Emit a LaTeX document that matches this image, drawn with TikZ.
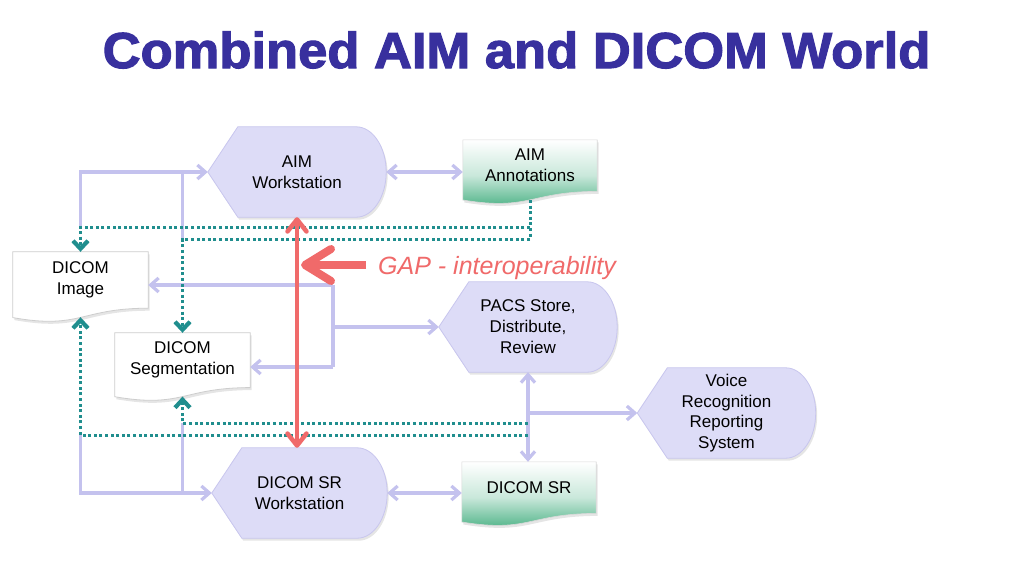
\documentclass[tikz,border=0pt]{standalone}
\usepackage{fontspec}
\setmainfont{Liberation Sans}
\newfontfamily\titlefont[FakeBold=2.2,FakeStretch=1.04]{Liberation Sans Bold}
\usetikzlibrary{arrows.meta,backgrounds,calc}
\definecolor{titleblue}{RGB}{56,48,158}
\definecolor{dispfill}{RGB}{221,220,247}
\definecolor{displine}{RGB}{200,198,238}
\definecolor{connc}{RGB}{196,194,238}
\definecolor{tealc}{RGB}{32,142,142}
\definecolor{redc}{RGB}{240,106,106}
\definecolor{docgreen}{RGB}{62,172,124}
\definecolor{docline}{RGB}{205,205,205}

\newcommand{\dispshape}[2]{\path[#2] (#1.west) -- ([xshift=30pt]#1.north west) -- ([xshift=-30pt]#1.north east) .. controls ([xshift=-13.4pt]#1.north east) and ([yshift=24.8pt]#1.east) .. (#1.east) .. controls ([yshift=-24.8pt]#1.east) and ([xshift=-13.4pt]#1.south east) .. ([xshift=-30pt]#1.south east) -- ([xshift=30pt]#1.south west) -- cycle;}
\newcommand{\docshape}[3]{\path[#3] (#1.north west) -- (#1.north east) -- (#1.south east) .. controls (#1.south) and ([yshift={-0.307*#2*1pt}]#1.south) .. ([yshift={-0.134*#2*1pt}]#1.south west) -- cycle;}

\tikzset{
  lbl/.style={font=\fontsize{17}{21}\selectfont, align=center, inner sep=0pt},
  disp/.style={lbl, minimum width=178pt, minimum height=90pt},
  doc/.style={lbl, minimum width=134pt},
  dispsty/.style={fill=dispfill, draw=displine, line width=0.8pt},
  shad/.style={fill=black, fill opacity=0.10, draw=none, transform canvas={shift={(1.5pt,-2.5pt)}}},
  docwhite/.style={fill=white, draw=docline, line width=0.8pt},
  docgrn/.style={top color=white, bottom color=docgreen, middle color=docgreen!28!white, draw=white!85!black, line width=0.6pt},
  conn/.style={draw=connc, line width=3.2pt},
  tealdot/.style={draw=tealc, line width=3pt, dash pattern=on 3pt off 2.6pt},
  redline/.style={draw=redc, line width=4.5pt},
  redbig/.style={draw=redc, line width=8pt},
  pb/.tip={Straight Barb[length=8pt,width=14pt]},
  tb/.tip={Straight Barb[length=8pt,width=15pt,line width=4.2pt]},
  rb/.tip={Straight Barb[length=12pt,width=19pt,round]},
  rbig/.tip={Straight Barb[length=26pt,width=32pt,round]},
}

\begin{document}
\begin{tikzpicture}[x=1pt,y=-1pt]
\useasboundingbox (0,0) rectangle (1024,576);

% title
\node[anchor=base, inner sep=0pt, text=titleblue, font=\fontsize{50.5}{60}\titlefont] (title) at (516.5,68) {Combined AIM and DICOM World};

% nodes
\node[disp] (aimws) at (297,172) {AIM\\Workstation};
\node[disp] (pacs) at (528,327) {PACS Store,\\Distribute,\\Review};
\node[disp, font=\fontsize{17}{20.5}\selectfont] (voice) at (726.5,413) {Voice\\Recognition\\Reporting\\System};
\node[disp, minimum width=175pt] (srws) at (299.5,493) {DICOM SR\\Workstation};
\node[doc, minimum height=51.2pt] (aimann) at (530,165.6) {AIM\\Annotations};
\node[doc, minimum height=51.2pt] (dsr) at (529,487.6) {DICOM SR};
\node[doc, minimum height=56pt, minimum width=135pt] (img) at (80.5,280) {DICOM\\Image};
\node[doc, minimum height=54.4pt, minimum width=135pt] (seg) at (182.5,360.2) {DICOM\\Segmentation};
\node[anchor=base west, inner sep=0pt, text=redc, font=\fontsize{25}{30}\selectfont\itshape] (gap) at (378,274) {GAP - interoperability};

% shapes
\begin{scope}[on background layer]
  \fill[white] (0,0) rectangle (1024,576);
  \dispshape{aimws}{shad}
  \dispshape{pacs}{shad}
  \dispshape{voice}{shad}
  \dispshape{srws}{shad}
  \docshape{aimann}{64}{shad}
  \docshape{dsr}{64}{shad}
  \docshape{img}{70}{shad}
  \docshape{seg}{68}{shad}
  \dispshape{aimws}{dispsty}
  \dispshape{pacs}{dispsty}
  \dispshape{voice}{dispsty}
  \dispshape{srws}{dispsty}
  \docshape{aimann}{64}{docgrn}
  \docshape{dsr}{64}{docgrn}
  \docshape{img}{70}{docwhite}
  \docshape{seg}{68}{docwhite}
\end{scope}

% helper coordinates
\coordinate (annA) at (530,227);
\coordinate (annB) at (530,239);
\coordinate (srA) at (528,423);
\coordinate (srB) at (528,435);
\coordinate (pj1) at (333,285);
\coordinate (pj2) at (333,367);
\coordinate (gaptail) at (366,265);

% lavender connectors
\draw[conn,-pb] (annA -| img.north) -- (img.north |- aimws.west) -- (aimws.west);
\draw[conn] (annB -| seg.north) -- (seg.north |- aimws.west);
\draw[conn,-pb] (srB -| img.south) -- (img.south |- srws.west) -- (srws.west);
\draw[conn] (srA -| seg.south) -- (seg.south |- srws.west);
\draw[conn,pb-pb] (aimws.east) -- (aimws.east -| aimann.west);
\draw[conn,pb-pb] (srws.east) -- (srws.east -| dsr.west);
\draw[conn,pb-pb] (pacs.south) -- (pacs.south |- dsr.north);
\draw[conn,-pb] (voice.west -| pacs.south) -- (voice.west);
\draw[conn] (pj1) -- (pj2);
\draw[conn,-pb] (pj1) -- (pj1 -| img.east);
\draw[conn,-pb] (pj2) -- (pj2 -| seg.east);
\draw[conn,-pb] (pj1 |- pacs.west) -- (pacs.west);

% teal dotted connectors
\draw[tealdot] ([yshift=-8.5pt]aimann.south) -- (annB);
\draw[tealdot,-tb] (annA) -- (annA -| img.north) -- (img.north);
\draw[tealdot,-tb] (annB) -- (annB -| seg.north) -- (seg.north);
\draw[tealdot,-tb] (srA) -- (srA -| seg.south) -- ([yshift=-9pt]seg.south);
\draw[tealdot,-tb] (srB) -- (srB -| img.south) -- ([yshift=-9pt]img.south);

% red arrows
\draw[redline,rb-rb] (aimws.south) -- (aimws.south |- srws.north);
\draw[redbig,-rbig] (gaptail) -- ([xshift=4pt]gaptail -| aimws.south);
\end{tikzpicture}
\end{document}
